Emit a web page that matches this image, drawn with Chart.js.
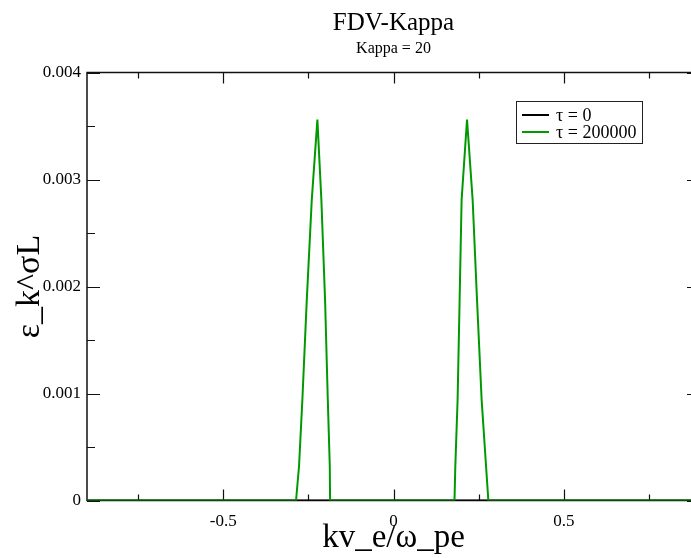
<!DOCTYPE html>
<html>
<head>
<meta charset="utf-8">
<title>FDV-Kappa</title>
<script src="https://cdn.jsdelivr.net/npm/chart.js@4.4.1/dist/chart.umd.min.js"></script>
<style>
  html, body { margin: 0; padding: 0; overflow: hidden; background: #fff; }
  canvas { display: block; }
</style>
</head>
<body>
<canvas id="fdvChart" width="702" height="558"></canvas>
<script>
// tau = 0 : flat at zero over the whole k range
const kTau0 = [-0.9, 0.9];
const epsTau0 = [0, 0];

// tau = 200000 : two humps around k = +/-0.22
const kTau2e5 = [-0.9, -0.2862, -0.2774, -0.2676, -0.2547, -0.2400, -0.2235, -0.2118, -0.2009, -0.1929, -0.1871, -0.1862,
                 0.1791, 0.1815, 0.1882, 0.1941, 0.2000, 0.2159, 0.2324, 0.2453, 0.2588, 0.2718, 0.2785, 0.9];
const epsTau2e5 = [0, 0, 0.00032, 0.00094, 0.00187, 0.00281, 0.00356, 0.00281, 0.00187, 0.00094, 0.00032, 0,
                   0, 0.00032, 0.00094, 0.00187, 0.00281, 0.00356, 0.00281, 0.00187, 0.00094, 0.00032, 0, 0];

const seriesLabels = ['\u03c4 = 0', '\u03c4 = 200000'];

const xTickValues = [-0.5, 0, 0.5];
const xTickLabels = ['-0.5', '0', '0.5'];
const xMinorTicks = [-0.75, -0.25, 0.25, 0.75];
const yTickValues = [0, 0.001, 0.002, 0.003, 0.004];
const yTickLabels = ['0', '0.001', '0.002', '0.003', '0.004'];
const yMinorTicks = [0.0005, 0.0015, 0.0025, 0.0035];

const SERIF = "'Liberation Serif', 'DejaVu Serif', serif";
const GREEN = '#009a00';

function toPoints(xs, ys) {
  return xs.map((x, i) => ({ x: x, y: ys[i] }));
}

// box frame with inward major/minor ticks on all four sides
const frameTicks = {
  id: 'frameTicks',
  beforeDatasetsDraw(chart) {
    const { ctx, chartArea: a, scales: { x, y } } = chart;
    ctx.save();
    ctx.strokeStyle = '#111';
    ctx.lineWidth = 1.5;
    ctx.strokeRect(a.left, a.top, a.right - a.left, a.bottom - a.top);
    ctx.beginPath();
    const vTick = (v, len) => {
      const p = Math.round(x.getPixelForValue(v)) + 0.5;
      ctx.moveTo(p, a.bottom); ctx.lineTo(p, a.bottom - len);
      ctx.moveTo(p, a.top); ctx.lineTo(p, a.top + len);
    };
    const hTick = (v, len) => {
      const p = Math.round(y.getPixelForValue(v)) + 0.5;
      ctx.moveTo(a.left, p); ctx.lineTo(a.left + len, p);
      ctx.moveTo(a.right, p); ctx.lineTo(a.right - len, p);
    };
    xTickValues.forEach(v => vTick(v, 11));
    xMinorTicks.forEach(v => vTick(v, 6));
    yTickValues.forEach(v => hTick(v, 13));
    yMinorTicks.forEach(v => hTick(v, 8));
    ctx.lineWidth = 1.2;
    ctx.stroke();
    ctx.restore();
  }
};

// legend box inside the plot, upper right
const boxLegend = {
  id: 'boxLegend',
  afterDatasetsDraw(chart) {
    const { ctx, chartArea: a } = chart;
    const bx = a.right - 184, by = a.top + 28.5, bw = 126, bh = 42;
    ctx.save();
    ctx.fillStyle = '#fff';
    ctx.fillRect(bx, by, bw, bh);
    ctx.strokeStyle = '#222';
    ctx.lineWidth = 1;
    ctx.strokeRect(bx + 0.5, by + 0.5, bw, bh);
    ctx.font = '18px ' + SERIF;
    ctx.textBaseline = 'middle';
    ctx.textAlign = 'left';
    chart.data.datasets.forEach((ds, i) => {
      const ly = by + 14 + i * 17;
      ctx.strokeStyle = ds.borderColor;
      ctx.lineWidth = 2;
      ctx.beginPath();
      ctx.moveTo(bx + 6, ly); ctx.lineTo(bx + 33, ly);
      ctx.stroke();
      ctx.fillStyle = '#000';
      ctx.fillText(ds.label, bx + 40, ly + 1);
    });
    ctx.restore();
  }
};

const ctx = document.getElementById('fdvChart').getContext('2d');

const fdvChart = new Chart(ctx, {
  type: 'scatter',
  data: {
    datasets: [{
      label: seriesLabels[0],
      data: toPoints(kTau0, epsTau0),
      showLine: true,
      borderColor: '#000',
      borderWidth: 2,
      pointRadius: 0,
      tension: 0,
      order: 1
    }, {
      label: seriesLabels[1],
      data: toPoints(kTau2e5, epsTau2e5),
      showLine: true,
      borderColor: GREEN,
      borderWidth: 2,
      pointRadius: 0,
      tension: 0,
      order: 0
    }]
  },
  options: {
    responsive: false,
    animation: false,
    devicePixelRatio: 1,
    layout: { padding: { left: 0, right: 2, top: 0, bottom: 0 } },
    plugins: {
      legend: { display: false },
      tooltip: { enabled: false },
      title: {
        display: true,
        text: 'FDV-Kappa',
        fullSize: false,
        color: '#000',
        font: { family: SERIF, size: 25, weight: 'normal', lineHeight: 1.2 },
        padding: { top: 8, bottom: 0 }
      },
      subtitle: {
        display: true,
        text: 'Kappa = 20',
        fullSize: false,
        color: '#000',
        font: { family: SERIF, size: 16, weight: 'normal', lineHeight: 1.2 },
        padding: { top: 1.5, bottom: 13.8 }
      }
    },
    scales: {
      x: {
        type: 'linear',
        min: -0.9,
        max: 0.9,
        afterBuildTicks: s => { s.ticks = xTickValues.map(v => ({ value: v })); },
        afterFit: s => { s.height = 57.5; },
        grid: { display: false, drawTicks: false },
        border: { display: false },
        ticks: {
          color: '#000',
          padding: 11,
          maxRotation: 0,
          font: { family: SERIF, size: 17 },
          callback: (v, i) => xTickLabels[i]
        },
        title: {
          display: true,
          text: 'kv_e/\u03c9_pe',
          color: '#000',
          font: { family: SERIF, size: 33, lineHeight: 1.2 },
          padding: { top: 0, bottom: 0 }
        }
      },
      y: {
        type: 'linear',
        min: 0,
        max: 0.004,
        afterBuildTicks: s => { s.ticks = yTickValues.map(v => ({ value: v })); },
        afterFit: s => { s.width = 87; },
        grid: { display: false, drawTicks: false },
        border: { display: false },
        ticks: {
          color: '#000',
          padding: 6,
          font: { family: SERIF, size: 17 },
          callback: (v, i) => yTickLabels[i]
        },
        title: {
          display: true,
          text: '\u03b5_k^\u03c3L',
          color: '#000',
          font: { family: SERIF, size: 34, lineHeight: 1.2 },
          padding: { top: 10, bottom: 0 }
        }
      }
    }
  },
  plugins: [frameTicks, boxLegend]
});
</script>
</body>
</html>
